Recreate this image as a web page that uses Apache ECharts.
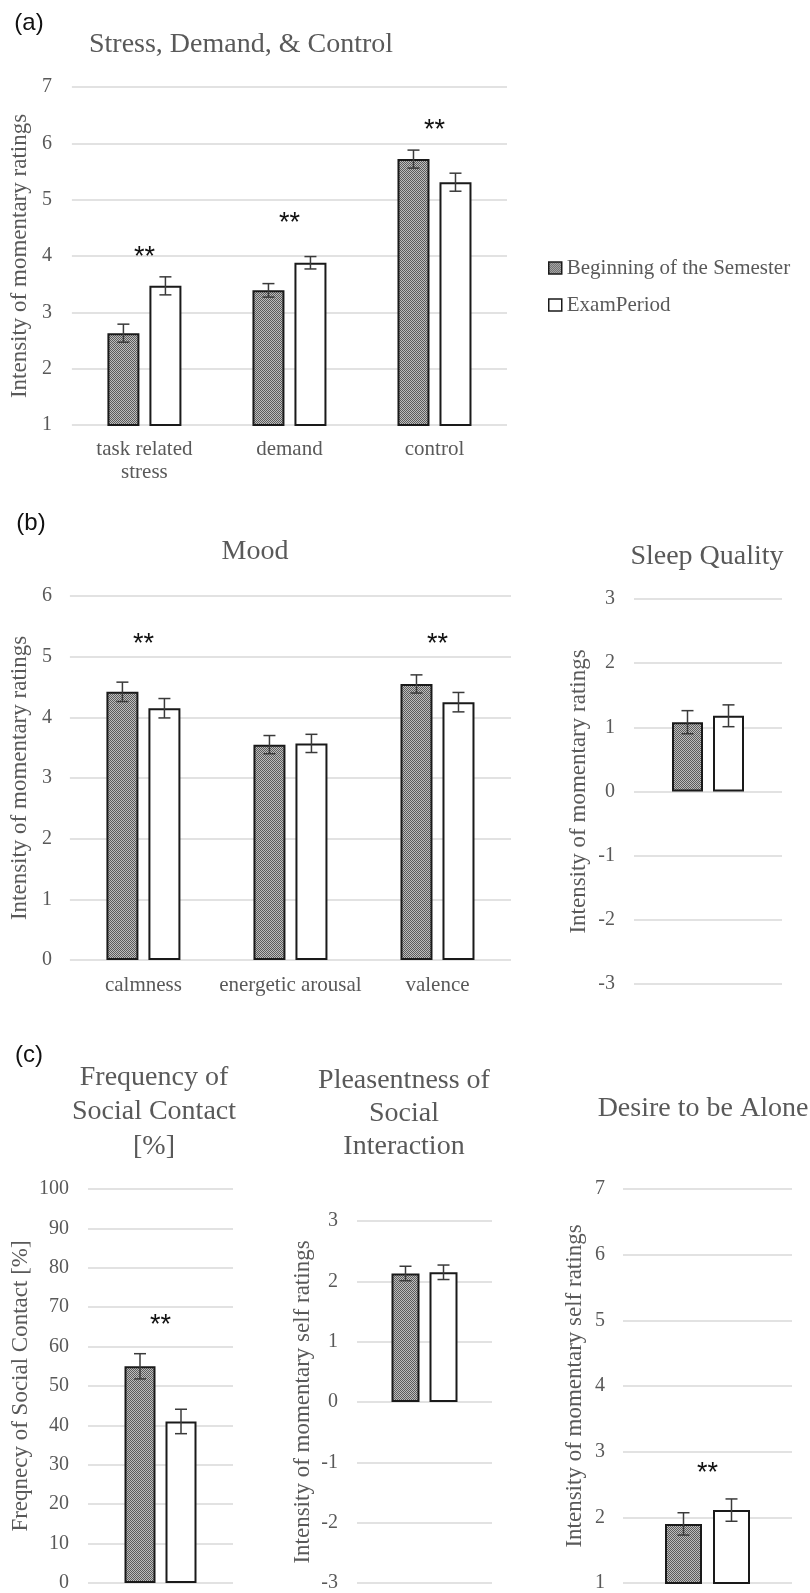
<!DOCTYPE html>
<html>
<head>
<meta charset="utf-8">
<script src="https://cdn.jsdelivr.net/npm/echarts@6/dist/echarts.min.js"></script>
<style>
  html, body { margin: 0; padding: 0; background: #fff; }
  #chart { width: 810px; height: 1593px; }
</style>
</head>
<body>
<div id="chart"></div>
<script>
// ---- data ----
const groupNames = ['Beginning of the Semester', 'ExamPeriod'];

const stressCats = ['task related\nstress', 'demand', 'control'];
const stressBegin = [2.63, 3.39, 5.72];
const stressExam = [3.47, 3.88, 5.31];
const stressBeginErr = [0.16, 0.12, 0.16];
const stressExamErr = [0.16, 0.11, 0.16];
const stressSig = [4.07, 4.66, 6.31];
const stressTicks = [1, 7, 1];

const moodCats = ['calmness', 'energetic arousal', 'valence'];
const moodBegin = [4.42, 3.55, 4.55];
const moodExam = [4.15, 3.57, 4.25];
const moodBeginErr = [0.16, 0.15, 0.15];
const moodExamErr = [0.16, 0.15, 0.16];
const moodSig = [5.29, null, 5.29];
const moodTicks = [0, 6, 1];

const sleepBegin = [1.08];
const sleepExam = [1.18];
const sleepBeginErr = [0.18];
const sleepExamErr = [0.17];
const sleepTicks = [-3, 3, 1];

const contactBegin = [55];
const contactExam = [41];
const contactBeginErr = [3.2];
const contactExamErr = [3.1];
const contactSig = [66.5];
const contactTicks = [0, 100, 10];

const pleasantBegin = [2.13];
const pleasantExam = [2.15];
const pleasantBeginErr = [0.12];
const pleasantExamErr = [0.12];
const pleasantTicks = [-3, 3, 1];

const aloneBegin = [1.90];
const aloneExam = [2.11];
const aloneBeginErr = [0.17];
const aloneExamErr = [0.17];
const aloneSig = [2.75];
const aloneTicks = [1, 7, 1];

// ---- styles ----
const SERIF = '"Liberation Serif", "Times New Roman", serif';
const SANS = '"Liberation Sans", Arial, sans-serif';
const TEXT = '#595959';
const GRID_LINE = '#d9d9d9';

// fine dotted fill for the first group
const dots = document.createElement('canvas');
dots.width = 4; dots.height = 4;
(function () {
  const c = dots.getContext('2d');
  c.fillStyle = '#bdbdbd';
  c.fillRect(0, 0, 4, 4);
  c.fillStyle = '#5c5c5c';
  for (let y = 0; y < 4; y++) {
    for (let x = 0; x < 4; x++) {
      if ((x + y) % 2 === 0) c.fillRect(x, y, 1, 1);
    }
  }
})();
const dotFill = { image: dots, repeat: 'repeat' };

function errRender(offset) {
  return function (params, api) {
    const i = api.value(0), m = api.value(1), e = api.value(2);
    const hi = api.coord([i, m + e]);
    const lo = api.coord([i, m - e]);
    const x = hi[0] + offset;
    const cap = 6;
    const st = { stroke: '#3a3a3a', lineWidth: 1.5 };
    return {
      type: 'group',
      children: [
        { type: 'line', shape: { x1: x, y1: hi[1], x2: x, y2: lo[1] }, style: st },
        { type: 'line', shape: { x1: x - cap, y1: hi[1], x2: x + cap, y2: hi[1] }, style: st },
        { type: 'line', shape: { x1: x - cap, y1: lo[1], x2: x + cap, y2: lo[1] }, style: st }
      ]
    };
  };
}

function sigRender(params, api) {
  const p = api.coord([api.value(0), api.value(1)]);
  return {
    type: 'text',
    x: p[0],
    y: p[1] + 5,
    style: {
      text: '**',
      font: '27px ' + SANS,
      fill: '#111',
      textAlign: 'center',
      textVerticalAlign: 'middle',
      align: 'center',
      verticalAlign: 'middle'
    }
  };
}

const grids = [], xAxes = [], yAxes = [], series = [];

function addPanel(cfg) {
  const k = grids.length;
  grids.push(Object.assign({ containLabel: false }, cfg.rect));
  xAxes.push({
    type: 'category',
    gridIndex: k,
    data: cfg.cats,
    axisLine: { show: false },
    axisTick: { show: false },
    axisLabel: {
      show: !!cfg.showCats,
      interval: 0,
      margin: cfg.catMargin || 13,
      fontFamily: SERIF,
      fontSize: 21,
      lineHeight: 23,
      color: TEXT
    }
  });
  yAxes.push({
    type: 'value',
    gridIndex: k,
    min: cfg.ticks[0],
    max: cfg.ticks[1],
    interval: cfg.ticks[2],
    axisLine: { show: false },
    axisTick: { show: false },
    axisLabel: { margin: cfg.tickMargin || 19, fontFamily: SERIF, fontSize: 20, color: TEXT },
    splitLine: { lineStyle: { color: GRID_LINE, width: 1.5 } },
    name: cfg.yName,
    nameLocation: 'middle',
    nameRotate: 90,
    nameGap: cfg.nameGap,
    nameTextStyle: { fontFamily: SERIF, fontSize: 23, color: TEXT }
  });
  const half = (cfg.barW + cfg.gap) / 2;
  const common = {
    type: 'bar',
    xAxisIndex: k,
    yAxisIndex: k,
    barWidth: cfg.barW,
    barGap: (cfg.gap / cfg.barW * 100) + '%',
    silent: true,
    z: 2
  };
  series.push(Object.assign({}, common, {
    name: groupNames[0],
    data: cfg.begin,
    itemStyle: { color: dotFill, borderColor: '#1a1a1a', borderWidth: 2 }
  }));
  series.push(Object.assign({}, common, {
    name: groupNames[1],
    data: cfg.exam,
    itemStyle: { color: '#ffffff', borderColor: '#1a1a1a', borderWidth: 2 }
  }));
  series.push({
    type: 'custom', xAxisIndex: k, yAxisIndex: k, z: 4, silent: true,
    renderItem: errRender(-half),
    data: cfg.begin.map((v, i) => [i, v, cfg.beginErr[i]])
  });
  series.push({
    type: 'custom', xAxisIndex: k, yAxisIndex: k, z: 4, silent: true,
    renderItem: errRender(half),
    data: cfg.exam.map((v, i) => [i, v, cfg.examErr[i]])
  });
  if (cfg.sig) {
    series.push({
      type: 'custom', xAxisIndex: k, yAxisIndex: k, z: 5, silent: true,
      renderItem: sigRender,
      data: cfg.sig.map((v, i) => [i, v]).filter(d => d[1] !== null)
    });
  }
}

// (a) stress, demand, control
addPanel({
  rect: { left: 67, top: 87, width: 440, height: 338 },
  cats: stressCats, showCats: true, catMargin: 13,
  begin: stressBegin, exam: stressExam,
  beginErr: stressBeginErr, examErr: stressExamErr,
  sig: stressSig, ticks: stressTicks,
  yName: 'Intensity of momentary ratings', nameGap: 35, tickMargin: 20,
  barW: 32, gap: 10
});
// (b) mood
addPanel({
  rect: { left: 66, top: 596, width: 445, height: 364 },
  cats: moodCats, showCats: true, catMargin: 14,
  begin: moodBegin, exam: moodExam,
  beginErr: moodBeginErr, examErr: moodExamErr,
  sig: moodSig, ticks: moodTicks,
  yName: 'Intensity of momentary ratings', nameGap: 35, tickMargin: 18,
  barW: 32, gap: 10
});
// (b) sleep quality
addPanel({
  rect: { left: 634, top: 599, width: 148, height: 385 },
  cats: [''], showCats: false,
  begin: sleepBegin, exam: sleepExam,
  beginErr: sleepBeginErr, examErr: sleepExamErr,
  ticks: sleepTicks,
  yName: 'Intensity of momentary ratings', nameGap: 44,
  barW: 31, gap: 10
});
// (c) frequency of social contact
addPanel({
  rect: { left: 88, top: 1189, width: 145, height: 396 },
  cats: [''], showCats: false,
  begin: contactBegin, exam: contactExam,
  beginErr: contactBeginErr, examErr: contactExamErr,
  sig: contactSig, ticks: contactTicks,
  yName: 'Freqnecy of Social Contact [%]', nameGap: 56,
  barW: 31, gap: 10
});
// (c) pleasantness of social interaction
addPanel({
  rect: { left: 357, top: 1221, width: 135, height: 365 },
  cats: [''], showCats: false,
  begin: pleasantBegin, exam: pleasantExam,
  beginErr: pleasantBeginErr, examErr: pleasantExamErr,
  ticks: pleasantTicks,
  yName: 'Intensity of momentary self ratings', nameGap: 43,
  barW: 28, gap: 10
});
// (c) desire to be alone
addPanel({
  rect: { left: 623, top: 1189, width: 169, height: 398 },
  cats: [''], showCats: false,
  begin: aloneBegin, exam: aloneExam,
  beginErr: aloneBeginErr, examErr: aloneExamErr,
  sig: aloneSig, ticks: aloneTicks,
  yName: 'Intensity of momentary self ratings', nameGap: 37, tickMargin: 18,
  barW: 37, gap: 11
});

function label(text, x, y, font, color, lineHeight) {
  return {
    type: 'text', x: x, y: y, silent: true,
    style: {
      text: text, font: font, fill: color,
      textAlign: 'center', textVerticalAlign: 'middle',
      align: 'center', verticalAlign: 'middle',
      lineHeight: lineHeight || undefined
    }
  };
}

const TITLE_FONT = '28px ' + SERIF;
const LETTER_FONT = '24px ' + SANS;

const chart = echarts.init(document.getElementById('chart'), null, { renderer: 'canvas' });
chart.setOption({
  animation: false,
  backgroundColor: '#ffffff',
  grid: grids,
  xAxis: xAxes,
  yAxis: yAxes,
  series: series,
  legend: {
    data: groupNames,
    orient: 'vertical',
    left: 543,
    top: 251,
    icon: 'rect',
    itemWidth: 13,
    itemHeight: 12,
    itemGap: 13,
    itemStyle: { borderColor: '#1a1a1a', borderWidth: 1.5 },
    textStyle: { fontFamily: SERIF, fontSize: 21, lineHeight: 24, color: TEXT },
    selectedMode: false
  },
  graphic: [
    label('(a)', 29, 23, LETTER_FONT, '#111'),
    label('(b)', 31, 523, LETTER_FONT, '#111'),
    label('(c)', 29, 1055, LETTER_FONT, '#111'),
    label('Stress, Demand, & Control', 241, 45, TITLE_FONT, TEXT),
    label('Mood', 255, 552, TITLE_FONT, TEXT),
    label('Sleep Quality', 707, 557, TITLE_FONT, TEXT),
    label('Frequency of\nSocial Contact\n[%]', 154, 1112, TITLE_FONT, TEXT, 34.5),
    label('Pleasentness of\nSocial\nInteraction', 404, 1114, TITLE_FONT, TEXT, 33),
    label('Desire to be Alone', 703, 1109, TITLE_FONT, TEXT)
  ]
});
</script>
</body>
</html>
